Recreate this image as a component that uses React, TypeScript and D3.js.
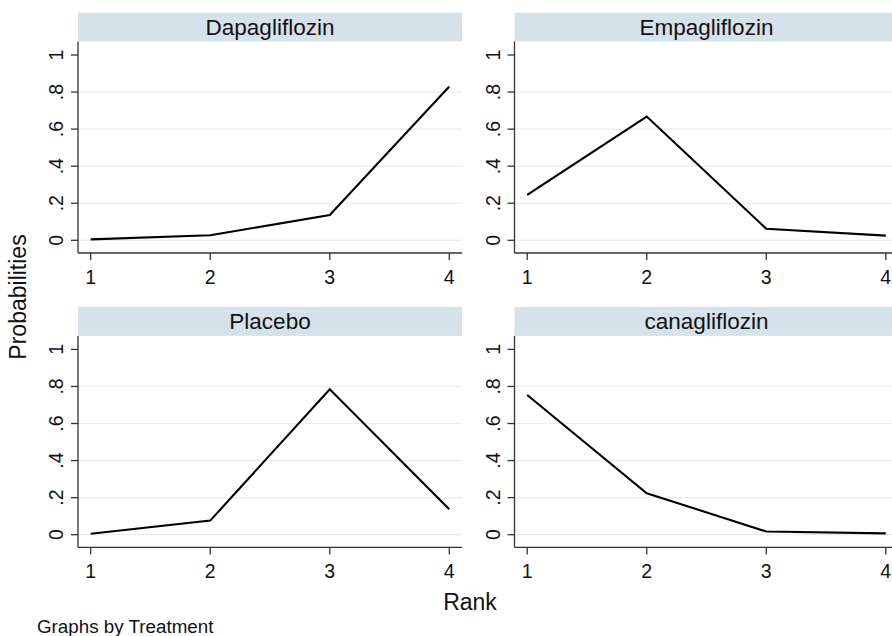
import React from "react";
import * as d3 from "d3";

const treatments = ["Dapagliflozin", "Empagliflozin", "Placebo", "canagliflozin"];
const ranks = [1, 2, 3, 4];
const dapagliflozin = [0.005, 0.027, 0.137, 0.83];
const empagliflozin = [0.245, 0.668, 0.062, 0.025];
const placebo = [0.005, 0.076, 0.785, 0.137];
const canagliflozin = [0.754, 0.224, 0.017, 0.007];
const seriesList = [dapagliflozin, empagliflozin, placebo, canagliflozin];
const yTicks = [0, 0.2, 0.4, 0.6, 0.8, 1];
const yTickLabels = ["0", ".2", ".4", ".6", ".8", "1"];
const gridTicks = [0, 0.2, 0.4, 0.6, 0.8];

const FONT = "'Liberation Sans', Arial, sans-serif";

function Panel({ title, values, left, top }: { title: string; values: number[]; left: number; top: number }) {
  const width = 384;
  const headerH = 29;
  const plotTop = top + headerH;
  const plotBottom = plotTop + 211.5;
  const x = d3.scaleLinear().domain([1, 4]).range([left + 12.7, left + width - 12.7]);
  const y = d3.scaleLinear().domain([0, 1]).range([plotBottom - 12.7, plotTop + 13.5]);
  const line = d3
    .line<number>()
    .x((_, i) => x(ranks[i]))
    .y((d) => y(d));
  return (
    <g>
      <rect x={left} y={top} width={width} height={headerH} fill="#d6e2e9" />
      <text
        x={left + width / 2}
        y={top + headerH - 7}
        textAnchor="middle"
        fontSize={22.5}
        fontFamily={FONT}
        fill="#111"
      >
        {title}
      </text>
      {gridTicks.map((t) => (
        <line key={t} x1={left} x2={left + width} y1={y(t)} y2={y(t)} stroke="#e4edf0" strokeWidth={1.2} />
      ))}
      <line x1={left} x2={left} y1={plotTop} y2={plotBottom} stroke="#333" strokeWidth={1.3} />
      <line x1={left} x2={left + width} y1={plotBottom} y2={plotBottom} stroke="#333" strokeWidth={1.3} />
      {yTicks.map((t, i) => (
        <g key={t}>
          <line x1={left - 7} x2={left} y1={y(t)} y2={y(t)} stroke="#333" strokeWidth={1.3} />
          <text
            transform={`translate(${left - 15},${y(t)}) rotate(-90)`}
            textAnchor="middle"
            fontSize={19.5}
            fontFamily={FONT}
            fill="#111"
          >
            {yTickLabels[i]}
          </text>
        </g>
      ))}
      {ranks.map((r) => (
        <g key={r}>
          <line x1={x(r)} x2={x(r)} y1={plotBottom} y2={plotBottom + 7} stroke="#333" strokeWidth={1.3} />
          <text x={x(r)} y={plotBottom + 30.5} textAnchor="middle" fontSize={19.5} fontFamily={FONT} fill="#111">
            {r}
          </text>
        </g>
      ))}
      <path d={line(values) || ""} fill="none" stroke="#000" strokeWidth={2.1} strokeLinejoin="miter" />
    </g>
  );
}

export default function App() {
  const lefts = [78, 514.5];
  const tops = [12.5, 306.9];
  return (
    <svg
      width={892}
      height={636}
      style={{ position: "absolute", left: 0, top: 0, background: "#fff" }}
    >
      <rect x={0} y={0} width={892} height={636} fill="#fff" />
      {treatments.map((t, i) => (
        <Panel key={t} title={t} values={seriesList[i]} left={lefts[i % 2]} top={tops[Math.floor(i / 2)]} />
      ))}
      <text
        transform="translate(26,297) rotate(-90)"
        textAnchor="middle"
        fontSize={23}
        fontFamily={FONT}
        fill="#111"
      >
        Probabilities
      </text>
      <text x={470} y={610} textAnchor="middle" fontSize={23} fontFamily={FONT} fill="#111">
        Rank
      </text>
      <text x={37} y={633} fontSize={18.8} fontFamily={FONT} fill="#111">
        Graphs by Treatment
      </text>
    </svg>
  );
}
